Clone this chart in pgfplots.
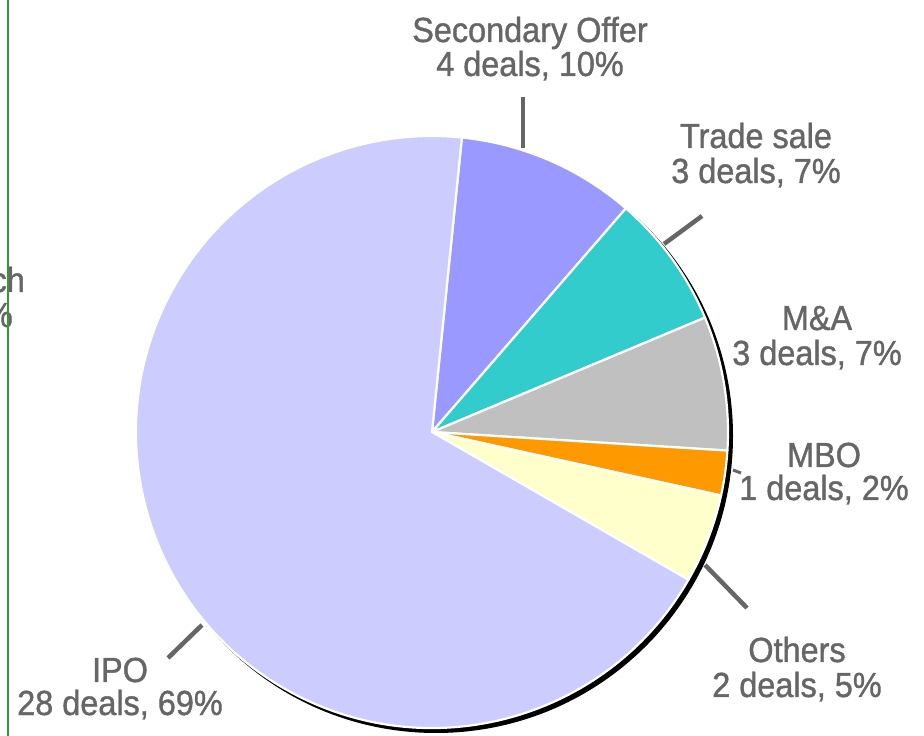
\documentclass[border=0pt]{standalone}
\usepackage{fontspec}
\setmainfont{Liberation Sans}
\newfontfamily\labfont[FakeStretch=0.93,FakeBold=1.1]{Liberation Sans}
\usepackage{pgfplots}
\usepackage{pgfplotstable}
\pgfplotsset{compat=1.18}
\definecolor{ipoC}{HTML}{CCCCFF}
\definecolor{secC}{HTML}{9999FF}
\definecolor{traC}{HTML}{33CCCC}
\definecolor{maC}{HTML}{C0C0C0}
\definecolor{mboC}{HTML}{FF9900}
\definecolor{othC}{HTML}{FFFFCC}
\definecolor{labC}{HTML}{666666}
\definecolor{grnC}{HTML}{339933}

\pgfplotstableread{
name deals
Secondary 4
Trade 3
MA 3
MBO 1
Others 2
IPO 28
}\piedata

\newcommand\slice[3]{\fill[#3,draw=white,line width=2.2bp,line join=round] (axis cs:432,-432) -- ++(#1:296bp) arc[start angle=#1,end angle=#2,radius=296bp] -- cycle;}
\tikzset{lbl/.style={anchor=base,text=labC,font=\labfont\fontsize{35}{37}\selectfont,inner sep=0pt}}
\newcommand\lab[5]{%
  \node[lbl] at (axis cs:#1,-#2) {#4};
  \node[lbl] at (axis cs:#1,-#3) {#5};}

\begin{document}%
\pgfplotstablegetelem{0}{deals}\of\piedata\edef\vA{\pgfplotsretval}%
\pgfplotstablegetelem{1}{deals}\of\piedata\edef\vB{\pgfplotsretval}%
\pgfplotstablegetelem{2}{deals}\of\piedata\edef\vC{\pgfplotsretval}%
\pgfplotstablegetelem{3}{deals}\of\piedata\edef\vD{\pgfplotsretval}%
\pgfplotstablegetelem{4}{deals}\of\piedata\edef\vE{\pgfplotsretval}%
\pgfplotstablegetelem{5}{deals}\of\piedata\edef\vF{\pgfplotsretval}%
\pgfmathsetmacro\total{\vA+\vB+\vC+\vD+\vE+\vF}%
\def\aA{84.2}%
\pgfmathsetmacro\aB{\aA-360*\vA/\total}%
\pgfmathsetmacro\aC{\aB-360*\vB/\total}%
\pgfmathsetmacro\aD{\aC-360*\vC/\total}%
\pgfmathsetmacro\aE{\aD-360*\vD/\total}%
\pgfmathsetmacro\aF{\aE-360*\vE/\total}%
\pgfmathsetmacro\aG{\aF-360*\vF/\total}%
\begin{tikzpicture}
\begin{axis}[hide axis, scale only axis, width=924bp, height=736bp,
  xmin=0, xmax=924, ymin=-736, ymax=0, clip=false]
\fill[black] (axis cs:436,-436) circle[radius=297bp];
\slice{\aA}{\aB}{secC}
\slice{\aB}{\aC}{traC}
\slice{\aC}{\aD}{maC}
\slice{\aD}{\aE}{mboC}
\slice{\aE}{\aF}{othC}
\slice{\aF}{\aG}{ipoC}
% leader lines
\draw[labC, line width=4.5bp] (axis cs:523,-97) -- (axis cs:523,-148);
\draw[labC, line width=4.5bp] (axis cs:664,-244) -- (axis cs:702,-216);
\draw[labC, line width=3bp] (axis cs:733,-470) -- (axis cs:741,-473);
\draw[labC, line width=4.5bp] (axis cs:705,-565) -- (axis cs:747,-608);
\draw[labC, line width=4.5bp] (axis cs:202,-625) -- (axis cs:168,-658);
% labels
\lab{530}{42}{76}{Secondary Offer}{4 deals, 10\%}
\lab{756}{148}{183}{Trade sale}{3 deals, 7\%}
\lab{817}{330}{365}{M\&A}{3 deals, 7\%}
\lab{824}{467}{500}{MBO}{1 deals, 2\%}
\lab{797}{662}{697}{Others}{2 deals, 5\%}
\lab{120}{682}{715}{IPO}{28 deals, 69\%}
\node[lbl,anchor=base east] at (axis cs:25,-292) {Research};
\node[lbl,anchor=base east] at (axis cs:13,-327) {0 deals, 0\%};
\draw[grnC, line width=2bp] (axis cs:8,0) -- (axis cs:8,-736);
\end{axis}
\pgfresetboundingbox
\path (current axis.south west) rectangle (current axis.north east);
\end{tikzpicture}%
\end{document}
